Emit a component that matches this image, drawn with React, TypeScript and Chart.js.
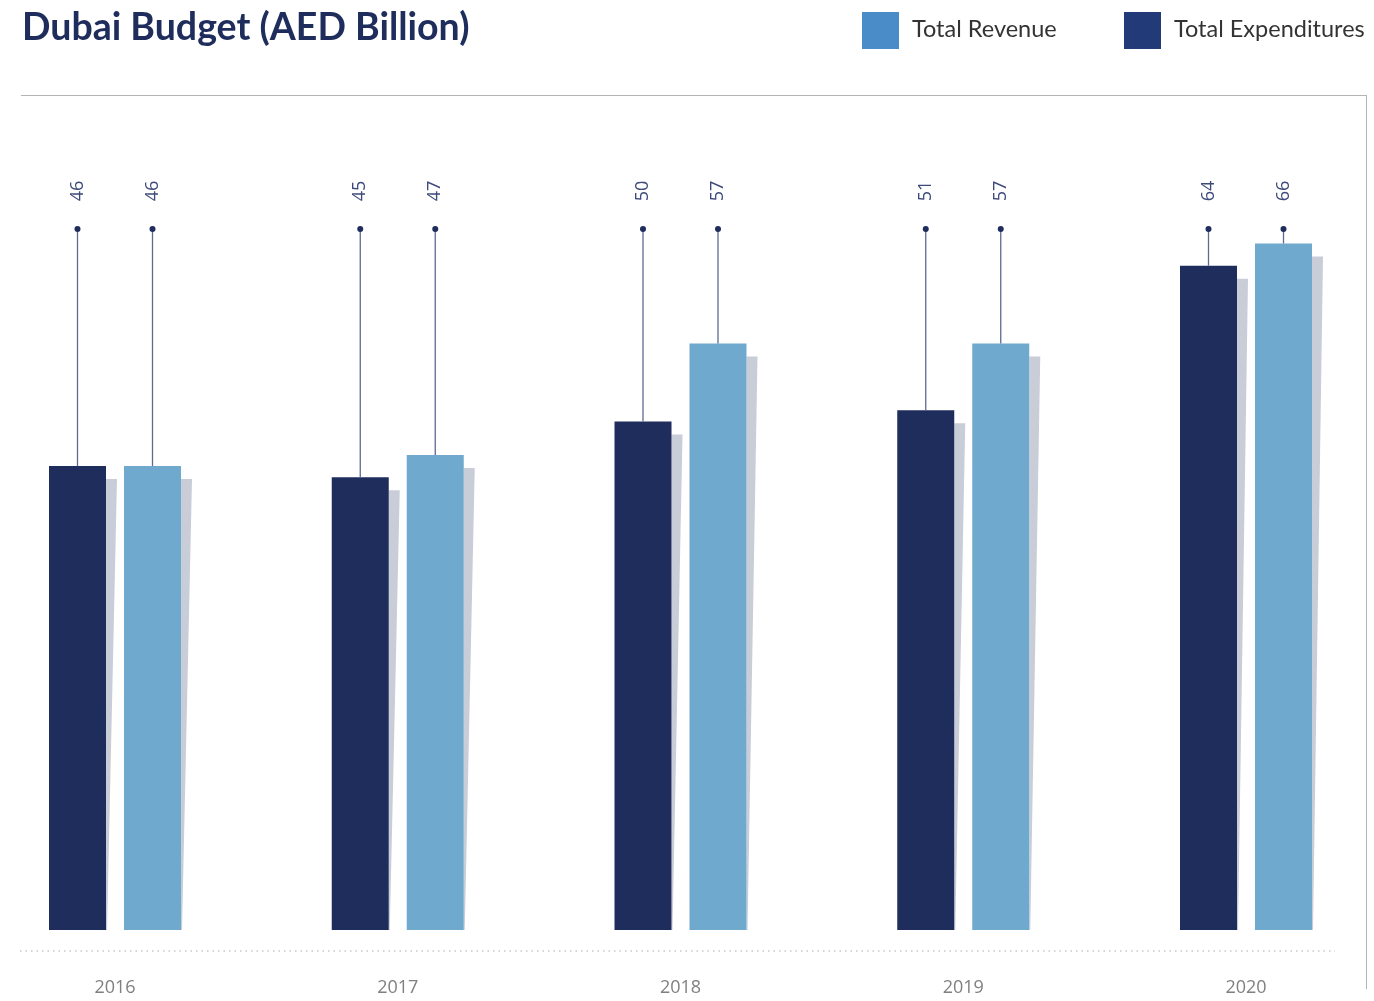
import React, { useEffect, useRef } from "react";
import { Chart, registerables } from "chart.js";

Chart.register(...registerables);

const years = ["2016", "2017", "2018", "2019", "2020"];
const expenditures = [46, 45, 50, 51, 64];
const revenue = [46, 47, 57, 57, 66];
const seriesNames = ["Total Expenditures", "Total Revenue"];
const legendNames = ["Total Revenue", "Total Expenditures"];

const Y_MIN = 4.3;
const Y_MAX = 67.3;

const DARK = "#1f2d5c";
const LIGHT = "#70a9ce";
const SHADOW = "#c9cdd8";

const decorPlugin = {
  id: "decor",
  beforeDatasetsDraw(chart: any) {
    const ctx = chart.ctx;
    ctx.save();
    ctx.fillStyle = SHADOW;
    chart.data.datasets.forEach((_ds: any, i: number) => {
      const meta = chart.getDatasetMeta(i);
      meta.data.forEach((bar: any) => {
        const { x, y, base, width } = bar.getProps(["x", "y", "base", "width"], true);
        const xr = x + width / 2;
        ctx.beginPath();
        ctx.moveTo(xr, y + 13);
        ctx.lineTo(xr + 11, y + 13);
        ctx.lineTo(xr + 1, base);
        ctx.lineTo(xr, base);
        ctx.closePath();
        ctx.fill();
      });
    });
    ctx.restore();
  },
  afterDatasetsDraw(chart: any) {
    const ctx = chart.ctx;
    const top = chart.chartArea.top;
    ctx.save();
    chart.data.datasets.forEach((ds: any, i: number) => {
      const meta = chart.getDatasetMeta(i);
      meta.data.forEach((bar: any, j: number) => {
        const { x, y } = bar.getProps(["x", "y"], true);
        ctx.strokeStyle = "#5d6a91";
        ctx.lineWidth = 1.3;
        ctx.beginPath();
        ctx.moveTo(x, y);
        ctx.lineTo(x, top);
        ctx.stroke();
        ctx.fillStyle = DARK;
        ctx.beginPath();
        ctx.arc(x, top, 3, 0, Math.PI * 2);
        ctx.fill();
        ctx.save();
        ctx.translate(x, top - 38);
        ctx.rotate(-Math.PI / 2);
        ctx.fillStyle = "#3d4a7a";
        ctx.font = "18px 'Open Sans', sans-serif";
        ctx.textAlign = "center";
        ctx.textBaseline = "middle";
        ctx.fillText(String(ds.data[j]), 0, 0);
        ctx.restore();
      });
    });
    // dotted baseline
    const yLine = chart.chartArea.bottom + 21;
    ctx.strokeStyle = "#c8c8c8";
    ctx.lineWidth = 1.5;
    ctx.setLineDash([1.5, 4]);
    ctx.beginPath();
    ctx.moveTo(20, yLine);
    ctx.lineTo(1335, yLine);
    ctx.stroke();
    ctx.restore();
  },
};

export default function App() {
  const ref = useRef<HTMLCanvasElement | null>(null);

  useEffect(() => {
    if (!ref.current) return;
    const chart = new Chart(ref.current, {
      type: "bar",
      data: {
        labels: years,
        datasets: [
          {
            label: seriesNames[0],
            data: expenditures,
            backgroundColor: DARK,
            categoryPercentage: 0.5305,
            barPercentage: 0.76,
            base: Y_MIN,
            clip: false as any,
          } as any,
          {
            label: seriesNames[1],
            data: revenue,
            backgroundColor: LIGHT,
            categoryPercentage: 0.5305,
            barPercentage: 0.76,
            base: Y_MIN,
            clip: false as any,
          } as any,
        ],
      },
      options: {
        animation: false,
        responsive: false,
        devicePixelRatio: 1,
        layout: { padding: { left: 115, right: 128, top: 229, bottom: 0 } },
        plugins: {
          legend: { display: false },
          tooltip: { enabled: false },
          title: { display: false },
        },
        scales: {
          x: {
            type: "category",
            offset: false,
            grid: { display: false, drawTicks: false },
            border: { display: false },
            ticks: {
              color: "#808080",
              font: { family: "'Open Sans', sans-serif", size: 18 },
              padding: 47,
              maxRotation: 0,
              autoSkip: false,
            },
            afterFit(scale: any) {
              scale.height = 71;
            },
          },
          y: {
            display: false,
            min: Y_MIN,
            max: Y_MAX,
          },
        },
      },
      plugins: [decorPlugin],
    });
    return () => chart.destroy();
  }, []);

  const legendText: React.CSSProperties = {
    marginLeft: 13,
    fontFamily: "Lato, sans-serif",
    fontSize: 23.5,
    color: "#333",
    whiteSpace: "nowrap",
    position: "relative",
    top: -3,
  };

  return (
    <div style={{ position: "absolute", left: 0, top: 0, width: 1374, height: 1001, background: "#fff", overflow: "hidden" }}>
      <canvas ref={ref} width={1374} height={1001} style={{ position: "absolute", left: 0, top: 0, width: 1374, height: 1001 }} />
      <div
        style={{
          position: "absolute",
          left: 22,
          top: 7,
          fontFamily: "Lato, sans-serif",
          fontWeight: 700,
          fontSize: 37.5,
          lineHeight: "38px",
          color: DARK,
          whiteSpace: "nowrap",
        }}
      >
        Dubai Budget (AED Billion)
      </div>
      <div style={{ position: "absolute", left: 862, top: 12, display: "flex", alignItems: "center", height: 37 }}>
        <div style={{ width: 37, height: 37, background: "#4a8cc8" }} />
        <span style={legendText}>{legendNames[0]}</span>
      </div>
      <div style={{ position: "absolute", left: 1124, top: 12, display: "flex", alignItems: "center", height: 37 }}>
        <div style={{ width: 37, height: 37, background: "#233a78" }} />
        <span style={legendText}>{legendNames[1]}</span>
      </div>
      <div style={{ position: "absolute", left: 21, top: 95, width: 1346, height: 0, borderTop: "1.5px solid #b4b4b4" }} />
      <div style={{ position: "absolute", left: 1366, top: 95, width: 0, height: 894, borderLeft: "1.5px solid #b4b4b4" }} />
    </div>
  );
}
